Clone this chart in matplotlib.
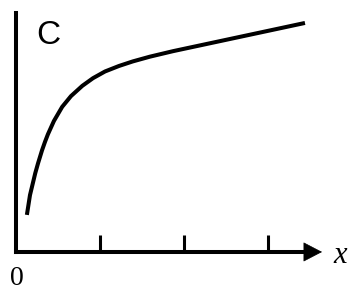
# sketch of a saturating curve C(x) with plain arrowed axes

import numpy as np
import matplotlib
matplotlib.use('Agg')
from matplotlib import pyplot as plt

# ----------- data --------------------------------------------------------

# x in tick units, C as fraction of the y-axis height
x_curve = [0.13, 0.167, 0.23, 0.262, 0.31, 0.345, 0.38, 0.452, 0.55, 0.655,
           0.79, 0.917, 1.06, 1.226, 1.39, 1.595, 1.87, 3.44]
c_curve = [0.155, 0.238, 0.330, 0.370, 0.425, 0.460, 0.492, 0.548, 0.607, 0.652,
           0.695, 0.727, 0.755, 0.778, 0.797, 0.817, 0.840, 0.958]

tick_positions = [1, 2, 3]
origin_label = "0"
x_label = "x"
y_label = "C"

# ----------- figure -------------------------------------------------------

fig = plt.figure(figsize=(3.5, 2.89), dpi=100)
ax = fig.add_axes([0, 0, 1, 1])
ax.set_xlim(-0.19, 3.976)
ax.set_ylim(-0.155, 1.054)

# curve
ax.plot(x_curve, c_curve, 'k-', linewidth=2.9, solid_capstyle='butt',
        solid_joinstyle='round')

# axes through the origin
for side in ['top', 'right']:
    ax.spines[side].set_visible(False)
ax.spines['left'].set_position(('data', 0))
ax.spines['bottom'].set_position(('data', 0))
ax.spines['left'].set_bounds(0, 1.0)
ax.spines['bottom'].set_bounds(0, 3.5)
for side in ['left', 'bottom']:
    ax.spines[side].set_linewidth(2.9)
    ax.spines[side].set_capstyle('projecting')

# arrow head on x axis
ax.annotate('', xy=(3.643, 0), xytext=(3.40, 0),
            arrowprops=dict(arrowstyle='-|>,head_length=12.5,head_width=6.5',
                            mutation_scale=1, color='k', lw=0.5,
                            shrinkA=0, shrinkB=0))

ax.set_xticks(tick_positions)
ax.set_xticklabels([])
ax.set_yticks([])
ax.tick_params(axis='x', direction='in', length=12.2, width=2.2, color='k')

# labels
ax.text(0.012, -0.109, origin_label, family='Liberation Serif', fontsize=20,
        ha='center', va='center')
ax.text(3.857, -0.015, x_label, family='Liberation Serif', style='italic',
        fontsize=22, ha='center', va='center')
ax.text(0.38, 0.905, y_label, family='Liberation Sans', fontsize=24,
        ha='center', va='center')

plt.savefig("out.png", format="png", dpi=100)
plt.close()
